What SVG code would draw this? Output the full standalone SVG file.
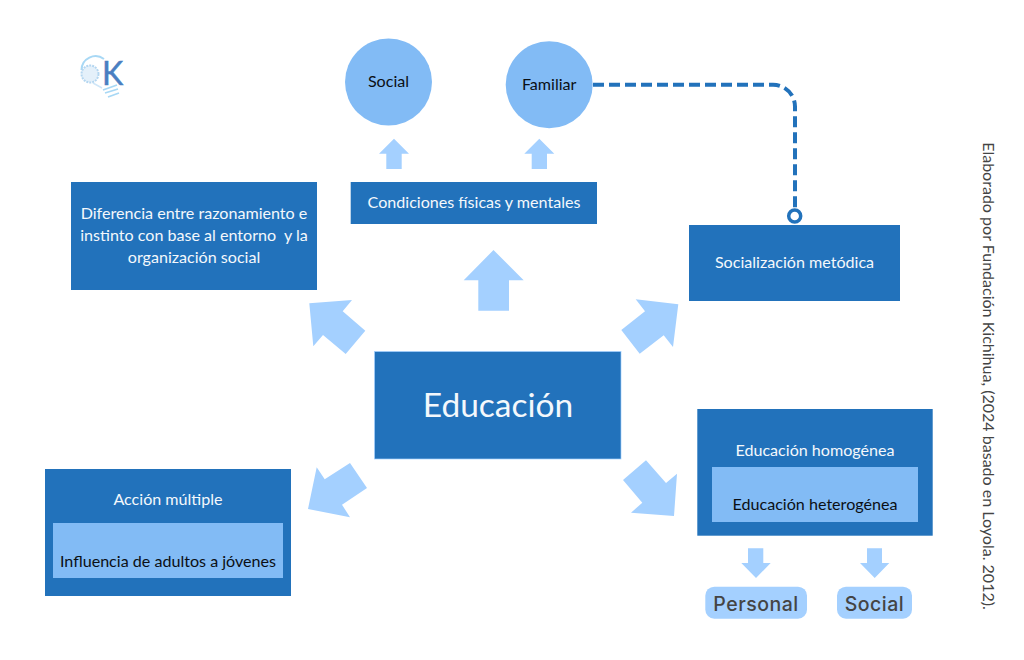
<svg xmlns="http://www.w3.org/2000/svg" width="1024" height="660" viewBox="0 0 1024 660">
<style>
text{font-family:"Lato","Liberation Sans",sans-serif;text-anchor:middle;font-size:16.1px}
.box{fill:#2272bb}
.inner{fill:#82bbf5}
.arrow{fill:#a4d0ff}
.w{fill:#f4f8fc}
.k{fill:#0b0f14}
.pill{fill:#a4d0ff}
.p{font-family:"Inter","Noto Sans",sans-serif;font-size:19.5px;font-weight:500;letter-spacing:0.5px;fill:#444}
</style>
<rect width="1024" height="660" fill="#fff"/>
<g id="connectors">
<g id="block-arrows">
<polygon class="arrow" points="493.5,250 523.7,280.3 509,280.3 509,310.7 478.3,310.7 478.3,280.3 463.7,280.3"/>
<polygon class="arrow" points="309.3,303.3 352,300 342.7,311.3 365.3,330.7 345.7,354 323,335 313.3,346.3"/>
<polygon class="arrow" points="678.3,304.3 673,347 663.7,335.3 639.7,353.7 621.3,330 645,311.3 635.7,299.3"/>
<polygon class="arrow" points="308,509 316.7,467.3 324.7,479.3 350,463 367,488 342,504.7 350,517.3"/>
<polygon class="arrow" points="674,516 677,473.7 666,483 646,460.3 623,480 642.3,502.7 631,512.7"/>
<polygon class="arrow" points="394,138.7 409,153.7 401.7,153.7 401.7,169 386.3,169 386.3,153.7 379,153.7"/>
<polygon class="arrow" points="539.3,138.7 554.3,153.7 547,153.7 547,169 531.7,169 531.7,153.7 524.3,153.7"/>
<polygon class="arrow" points="756,578 770.7,563 763.3,563 763.3,548.3 748,548.3 748,563 741.3,563"/>
<polygon class="arrow" points="874.7,578 889.3,563 882,563 882,548.3 867,548.3 867,563 860,563"/>
</g>
<path d="M593 84.7H773A22 22 0 0 1 795 106.700V208" fill="none" stroke="#2272bb" stroke-width="4" stroke-dasharray="11 5"/>
<circle cx="794.700" cy="216" r="6" fill="#fff" stroke="#2272bb" stroke-width="3.500"/>
</g>
<g id="logo">
<path d="M81.500 70A14 14 0 0 1 104 59" fill="none" stroke="#a8d8f5" stroke-width="2"/>
<path d="M93 83L102 88" fill="none" stroke="#cfe6f8" stroke-width="1.500"/>
<circle cx="90" cy="74" r="8.500" fill="#e4f0fa" stroke="#b4d6f0" stroke-width="2" stroke-dasharray="2 1"/>
<path d="M103 90L117 85M105 93L118 89M108 97L119 93" fill="none" stroke="#a8d8f5" stroke-width="1.800"/>
<text x="112.500" y="85" style="font-size:32px;fill:#4a7fc1;stroke:#4a7fc1;stroke-width:0.500px">K</text>
</g>
<g id="node-social-circle"><circle class="inner" cx="388.500" cy="82" r="43.500"/><text class="k" x="388.500" y="87">Social</text></g>
<g id="node-familiar"><circle class="inner" cx="549.200" cy="84.700" r="43.500"/><text class="k" x="549.200" y="90">Familiar</text></g>
<g id="node-condiciones"><rect class="box" x="350.700" y="182" width="246.300" height="42"/><text class="w" x="474" y="208">Condiciones físicas y mentales</text></g>
<g id="node-diferencia"><rect class="box" x="71" y="182" width="246" height="108"/>
<text class="w" x="194" y="219">Diferencia entre razonamiento e</text>
<text class="w" x="194" y="241" xml:space="preserve">instinto con base al entorno  y la</text>
<text class="w" x="194" y="263">organización social</text></g>
<g id="node-socializacion"><rect class="box" x="689" y="225" width="211" height="76"/><text class="w" x="794.500" y="268">Socialización metódica</text></g>
<g id="node-educacion"><rect class="box" x="374.500" y="351.500" width="246.500" height="107.500" stroke="#a4d0ff" stroke-width="0.700"/><text x="498" y="417" style="font-size:33.500px;fill:#f4f8fc">Educación</text></g>
<g id="node-accion"><rect class="box" x="45" y="469" width="246" height="127"/><text class="w" x="168" y="505">Acción múltiple</text><rect class="inner" x="53" y="523" width="230" height="55"/><text class="k" x="168" y="567">Influencia de adultos a jóvenes</text></g>
<g id="node-homogenea"><rect class="box" x="697.300" y="409" width="235.400" height="126.700"/><text class="w" x="815" y="456">Educación homogénea</text><rect class="inner" x="712" y="467" width="206" height="55"/><text class="k" x="815" y="510">Educación heterogénea</text></g>
<g id="node-personal"><rect class="pill" x="705.300" y="586.700" width="101.700" height="32" rx="9"/><text class="p" x="756" y="611">Personal</text></g>
<g id="node-social-pill"><rect class="pill" x="837" y="586.700" width="75" height="32" rx="9"/><text class="p" x="874.500" y="611">Social</text></g>
<text transform="translate(983 376) rotate(90)" style="font-size:16.050px;fill:#444">Elaborado por Fundación Kichihua, (2024 basado en Loyola. 2012).</text>
</svg>
